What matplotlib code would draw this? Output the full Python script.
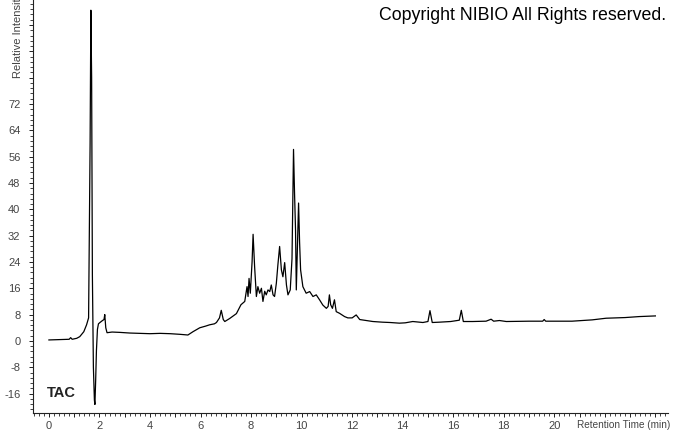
import numpy as np
import matplotlib
matplotlib.use('Agg')
import matplotlib.pyplot as plt
from matplotlib.ticker import MultipleLocator, FuncFormatter

matplotlib.rcParams['font.family'] = ['Liberation Sans', 'DejaVu Sans']
matplotlib.rcParams['xtick.direction'] = 'out'
matplotlib.rcParams['ytick.direction'] = 'out'

# retention time (min) and relative intensity
rt = [0.0, 0.4, 0.8, 0.86, 0.92, 1.1, 1.22, 1.38, 1.49, 1.53, 1.57, 1.6, 1.63, 1.66,
      1.69, 1.72, 1.76, 1.8, 1.82, 1.85, 1.88, 1.92, 1.96, 2.02, 2.12, 2.18, 2.21, 2.25,
      2.3, 2.5, 2.8, 3.2, 3.6, 4.0, 4.4, 4.8, 5.2, 5.5, 5.7, 5.97, 6.2, 6.36, 6.55, 6.63,
      6.75, 6.82, 6.9, 6.96, 7.15, 7.42, 7.6, 7.75, 7.84, 7.88, 7.92, 7.97, 8.04, 8.08,
      8.14, 8.21, 8.27, 8.34, 8.41, 8.47, 8.54, 8.6, 8.67, 8.74, 8.8, 8.87, 8.93, 9.0,
      9.06, 9.13, 9.2, 9.26, 9.33, 9.4, 9.46, 9.55, 9.62, 9.68, 9.72, 9.76, 9.79, 9.84,
      9.88, 9.92, 9.96, 10.05, 10.18, 10.32, 10.45, 10.58, 10.71, 10.84, 10.98, 11.05,
      11.1, 11.15, 11.22, 11.3, 11.37, 11.5, 11.7, 11.83, 12.0, 12.16, 12.3, 12.56,
      12.82, 13.2, 13.5, 13.87, 14.1, 14.4, 14.8, 15.0, 15.08, 15.17, 15.45, 15.9,
      16.24, 16.32, 16.4, 16.77, 17.3, 17.5, 17.6, 17.83, 18.1, 19.0, 19.54, 19.6,
      19.66, 20.7, 21.5, 22.05, 22.8, 23.36, 24.0]
intensity = [0.3, 0.4, 0.5, 1.0, 0.5, 0.8, 1.3, 2.8, 4.9, 5.9, 7.0, 32, 60, 100.5,
             80, 20, -8, -18, -19.3, -12, -3, 3.5, 5.2, 5.6, 6.2, 6.5, 8.0, 4.0,
             2.5, 2.7, 2.6, 2.4, 2.3, 2.2, 2.3, 2.2, 2.0, 1.8, 2.8, 4.0, 4.5, 4.9, 5.2, 5.6,
             7.0, 9.3, 6.5, 5.9, 6.8, 8.3, 11.0, 12.0, 16.5, 13.5, 19.0, 14.5, 24, 32.4,
             22.6, 13.5, 16.5, 14.5, 16.0, 12.0, 15.1, 14.0, 15.5, 15.0, 17.0, 14.0, 13.5, 17.5,
             23.0, 28.7, 21.6, 19.5, 23.8, 17.0, 14.0, 15.5, 25, 58.2, 45, 33.7, 15.5, 30,
             41.9, 30, 21.6, 16.5, 14.5, 15.0, 13.5, 14.0, 12.5, 10.9, 9.9, 10.5,
             14.0, 11.0, 9.9, 12.5, 8.9, 8.4, 7.4, 7.0, 7.0, 7.9, 6.5, 6.2,
             5.9, 5.7, 5.6, 5.4, 5.5, 5.9, 5.6, 5.9, 9.2, 5.6, 5.7, 5.9,
             6.3, 9.3, 5.9, 5.9, 6.0, 6.6, 6.0, 6.2, 5.9, 6.0, 6.0, 6.5,
             6.0, 6.0, 6.4, 6.9, 7.1, 7.4, 7.6]

xlabels = [0, 2, 4, 6, 8, 10, 12, 14, 16, 18, 20]
ylabels = [-16, -8, 0, 8, 16, 24, 32, 40, 48, 56, 64, 72]

W, H = 673, 433
fig = plt.figure(figsize=(W / 100, H / 100), dpi=100)
ax = fig.add_axes([33 / W, 20 / H, 635 / W, 413 / H])

ax.plot(rt, intensity, color='black', lw=0.9)

ax.set_xlim(-0.63, 24.5)
ax.set_ylim(-21.9, 103.6)

for s in ['top', 'right']:
    ax.spines[s].set_visible(False)
for s in ['left', 'bottom']:
    ax.spines[s].set_linewidth(0.8)
    ax.spines[s].set_color('#222222')

tick_col = '#444444'
ax.xaxis.set_major_locator(MultipleLocator(1))
ax.xaxis.set_minor_locator(MultipleLocator(0.2))
ax.xaxis.set_major_formatter(FuncFormatter(
    lambda v, p: '%d' % round(v) if round(v) in xlabels and abs(v - round(v)) < 1e-6 else ''))
ax.yaxis.set_major_locator(MultipleLocator(8))
ax.yaxis.set_minor_locator(MultipleLocator(1.6))
ax.yaxis.set_major_formatter(FuncFormatter(
    lambda v, p: '%d' % round(v) if round(v) in ylabels and abs(v - round(v)) < 1e-6 else ''))

ax.tick_params(axis='both', which='major', length=3, width=0.7, color='#222222',
               labelsize=8, labelcolor=tick_col)
ax.tick_params(axis='x', which='major', pad=3)
ax.tick_params(axis='y', which='major', pad=6)
ax.tick_params(axis='both', which='minor', length=2, width=0.6, color='#222222')

fig.text(18 / W, 1 - 78 / H, 'Relative Intensity', rotation=90, ha='center', va='bottom',
         fontsize=8, color=tick_col)
fig.text(577 / W, 1 - 425 / H, 'Retention Time (min)', ha='left', va='center',
         fontsize=7.2, color=tick_col)
fig.text(47 / W, 1 - 393 / H, 'TAC', ha='left', va='center', fontsize=10.5,
         fontweight='bold', color='#222222')
fig.text(666 / W, 1 - 15 / H, 'Copyright NIBIO All Rights reserved.', ha='right',
         va='center', fontsize=12.8, color='black')

fig.savefig('out.png', dpi=100)
